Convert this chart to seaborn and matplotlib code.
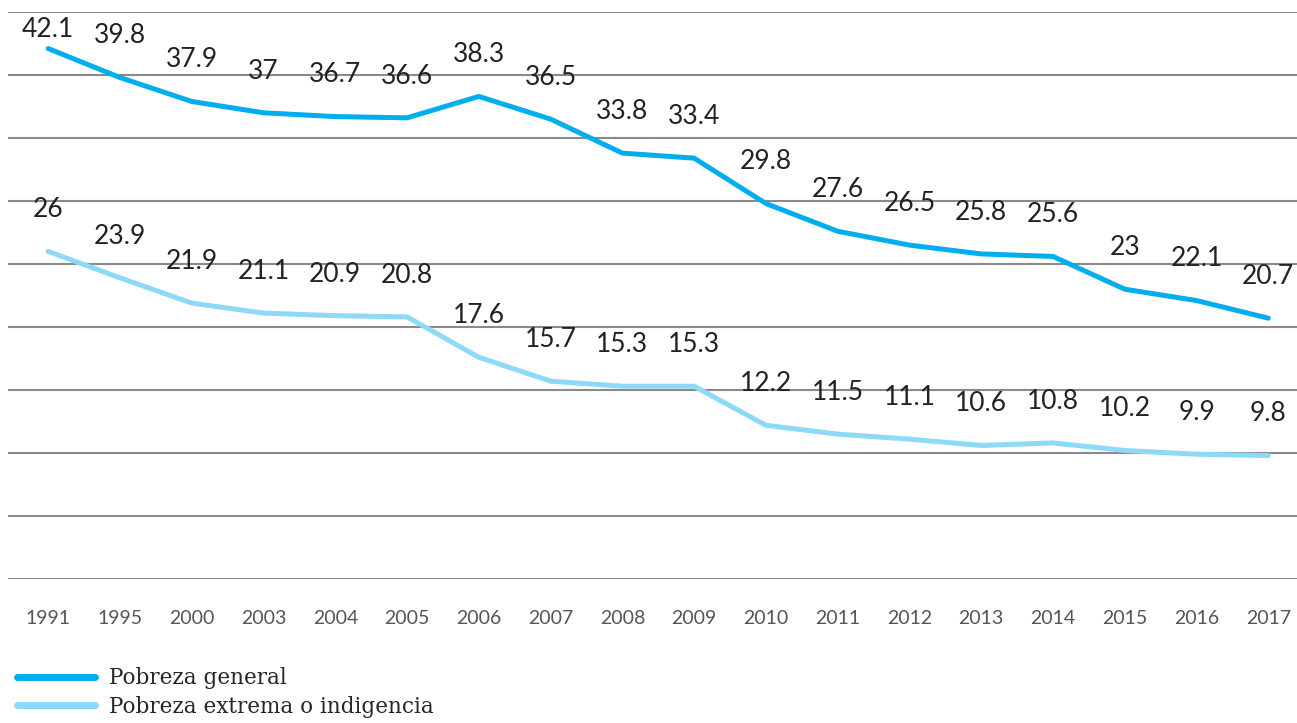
import pandas as pd
import seaborn as sns
import matplotlib.pyplot as plt

# data
years = ['1991', '1995', '2000', '2003', '2004', '2005', '2006', '2007', '2008',
         '2009', '2010', '2011', '2012', '2013', '2014', '2015', '2016', '2017']
pobreza_general = [42.1, 39.8, 37.9, 37, 36.7, 36.6, 38.3, 36.5, 33.8,
                   33.4, 29.8, 27.6, 26.5, 25.8, 25.6, 23, 22.1, 20.7]
pobreza_extrema = [26, 23.9, 21.9, 21.1, 20.9, 20.8, 17.6, 15.7, 15.3,
                   15.3, 12.2, 11.5, 11.1, 10.6, 10.8, 10.2, 9.9, 9.8]
series_names = ['Pobreza general', 'Pobreza extrema o indigencia']
colors = ['#00aeef', '#8ed8f8']

sns.set_style('white')
plt.rcParams['font.family'] = ['Lato', 'DejaVu Sans']

df = pd.DataFrame({
    'year': years * 2,
    'value': pobreza_general + pobreza_extrema,
    'serie': [series_names[0]] * len(years) + [series_names[1]] * len(years),
})
df['x'] = list(range(len(years))) * 2

fig = plt.figure(figsize=(12.97, 7.23), dpi=100)
ax = fig.add_axes([8 / 1297, 1 - 579 / 723, 1 - 8 / 1297, (579 - 12) / 723])

sns.lineplot(data=df, x='x', y='value', hue='serie', palette=colors,
             linewidth=3.6, ax=ax, legend=False, zorder=3)

# value labels above each point
for vals in [pobreza_general, pobreza_extrema]:
    for i, v in enumerate(vals):
        ax.text(i, min(v + 3.3, 43.6), f'{v:g}', ha='center', va='center',
                fontsize=19, color='#222222', zorder=4)

ax.set_xlim(-0.56, 17.4)
ax.set_ylim(0, 45)
ax.set_yticks(range(0, 50, 5))
ax.yaxis.grid(True, color='#8a8a8a', linewidth=1.5)
ax.set_yticklabels([])
ax.set_xticks(range(len(years)))
ax.set_xticklabels(years, fontsize=14, color='#555555')
ax.tick_params(axis='both', length=0)
ax.tick_params(axis='x', pad=22)
ax.set_xlabel('')
ax.set_ylabel('')
sns.despine(ax=ax, left=True, bottom=True)

handles = [plt.Line2D([], [], color=c, linewidth=5, solid_capstyle='round') for c in colors]
fig.legend(handles, series_names, loc='upper left', bbox_to_anchor=(0.005, 0.092),
           frameon=False, prop={'family': 'DejaVu Serif', 'size': 15.5},
           handlelength=3.6, handletextpad=0.65, labelspacing=0.3, borderpad=0)

fig.savefig('out.png', dpi=100)
